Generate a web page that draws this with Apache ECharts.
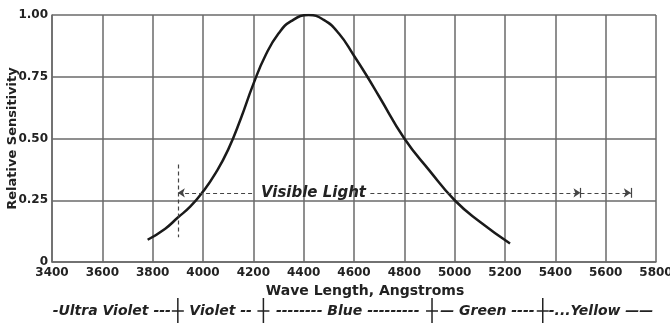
<!DOCTYPE html>
<html>
<head>
<meta charset="utf-8">
<style>
  html, body { margin: 0; padding: 0; background: #fff; }
  #chart { width: 670px; height: 327px; }
</style>
<script src="https://cdn.jsdelivr.net/npm/echarts/dist/echarts.min.js"></script>
</head>
<body>
<div id="chart"></div>
<script>
// curve: wave length (Angstrom) -> relative sensitivity
var waveLengths = [3780, 3850, 3900, 3950, 4000, 4050, 4100, 4150, 4200, 4250, 4300, 4350, 4420, 4480, 4540, 4600, 4650, 4700, 4800, 4900, 5000, 5100, 5220];
var sensitivity = [0.09, 0.135, 0.18, 0.225, 0.285, 0.36, 0.455, 0.58, 0.72, 0.84, 0.925, 0.975, 1.0, 0.98, 0.925, 0.835, 0.755, 0.67, 0.50, 0.37, 0.25, 0.163, 0.075];

// "Visible Light" arrow
var visibleFrom = 3900;
var visibleBreak = [4195, 4665];
var visibleMid = 5500;
var visibleTo = 5700;
var visibleLevel = 0.28;
var visibleLabelAt = 4439;

// colour bands under the axis
var bandEdges = [3900, 4240, 4910, 5350];
var bandTexts = ['-Ultra Violet ---', 'Violet --', '-------- Blue ---------', '\u2014 Green ----', '-...Yellow \u2014\u2014'];

var ink = '#222';
var gridColor = '#6a6a6a';
var font = 'DejaVu Sans';

var myChart = echarts.init(document.getElementById('chart'));

var points = waveLengths.map(function (w, i) { return [w, sensitivity[i]]; });

var option = {
  animation: false,
  grid: { left: 52, right: 14, top: 15, bottom: 65, containLabel: false, outerBoundsMode: 'none' },
  xAxis: {
    type: 'value',
    min: 3400,
    max: 5800,
    interval: 200,
    name: 'Wave Length, Angstroms',
    nameLocation: 'middle',
    nameGap: 22,
    nameMoveOverlap: false,
    nameTextStyle: { color: ink, fontFamily: font, fontSize: 14, fontWeight: 'bold', padding: [0, 0, 0, 22] },
    axisLine: { lineStyle: { color: gridColor, width: 1.5 } },
    axisTick: { show: false },
    axisLabel: {
      color: ink, fontFamily: font, fontSize: 12, fontWeight: 'bold', margin: 5,
      formatter: function (v) { return String(v); }
    },
    splitLine: { lineStyle: { color: gridColor, width: 1.5 } }
  },
  yAxis: {
    type: 'value',
    min: 0,
    max: 1,
    interval: 0.25,
    name: 'Relative Sensitivity',
    nameLocation: 'middle',
    nameGap: 33,
    nameMoveOverlap: false,
    nameTextStyle: { color: ink, fontFamily: font, fontSize: 13, fontWeight: 'bold' },
    axisLine: { show: true, lineStyle: { color: gridColor, width: 1.5 } },
    axisTick: { show: false },
    axisLabel: {
      color: ink, fontFamily: font, fontSize: 12, fontWeight: 'bold', margin: 4,
      formatter: function (v) { return v === 0 ? '0' : v.toFixed(2); }
    },
    splitLine: { lineStyle: { color: gridColor, width: 1.5 } }
  },
  series: [{
    type: 'line',
    data: points,
    smooth: 0.5,
    showSymbol: false,
    lineStyle: { color: '#1a1a1a', width: 2.5 },
    markLine: {
      silent: true,
      symbol: ['none', 'none'],
      symbolSize: 7,
      label: { show: false },
      lineStyle: { color: '#444', width: 1.2, type: [4, 3] },
      data: [
        [{ coord: [visibleFrom, 0.395] }, { coord: [visibleFrom, 0.10] }],
        [{ coord: [visibleBreak[0], visibleLevel] }, { coord: [visibleFrom, visibleLevel], symbol: 'arrow' }],
        [{ coord: [visibleBreak[1], visibleLevel] }, { coord: [visibleMid, visibleLevel], symbol: 'arrow' }],
        [{ coord: [visibleMid, visibleLevel] }, { coord: [visibleTo, visibleLevel], symbol: 'arrow' }],
        [{ coord: [visibleMid, visibleLevel + 0.02], lineStyle: { type: 'solid' } }, { coord: [visibleMid, visibleLevel - 0.02] }],
        [{ coord: [visibleTo, visibleLevel + 0.02], lineStyle: { type: 'solid' } }, { coord: [visibleTo, visibleLevel - 0.02] }]
      ]
    },
    markPoint: {
      silent: true,
      symbolSize: 0,
      data: [{ coord: [visibleLabelAt, visibleLevel] }],
      label: {
        show: true,
        position: 'inside',
        formatter: 'Visible Light',
        color: ink,
        fontFamily: font,
        fontSize: 15,
        fontStyle: 'italic',
        fontWeight: 'bold'
      }
    }
  }]
};

myChart.setOption(option);

// bands row below the axis name, placed from the axis scale
var px = function (v) { return myChart.convertToPixel({ xAxisIndex: 0 }, v); };
var rowY = 311;
var elements = [];
var edgesPx = bandEdges.map(px);
edgesPx.forEach(function (x) {
  elements.push({ type: 'line', shape: { x1: x, y1: 298, x2: x, y2: 323 }, style: { stroke: ink, lineWidth: 1.5 } });
  elements.push({ type: 'line', shape: { x1: x - 6, y1: rowY, x2: x + 6, y2: rowY }, style: { stroke: ink, lineWidth: 1.5 } });
});
var textStyle = function (text, x, align) {
  return {
    type: 'text', x: x, y: rowY,
    style: {
      text: text, fill: ink, font: 'italic bold 14px "' + font + '"',
      align: align, verticalAlign: 'middle'
    }
  };
};
elements.push(textStyle(bandTexts[0], edgesPx[0] - 7, 'right'));
for (var i = 1; i < edgesPx.length; i++) {
  elements.push(textStyle(bandTexts[i], (edgesPx[i - 1] + edgesPx[i]) / 2, 'center'));
}
elements.push(textStyle(bandTexts[4], edgesPx[3] + 6, 'left'));
myChart.setOption({ graphic: elements });
</script>
</body>
</html>
